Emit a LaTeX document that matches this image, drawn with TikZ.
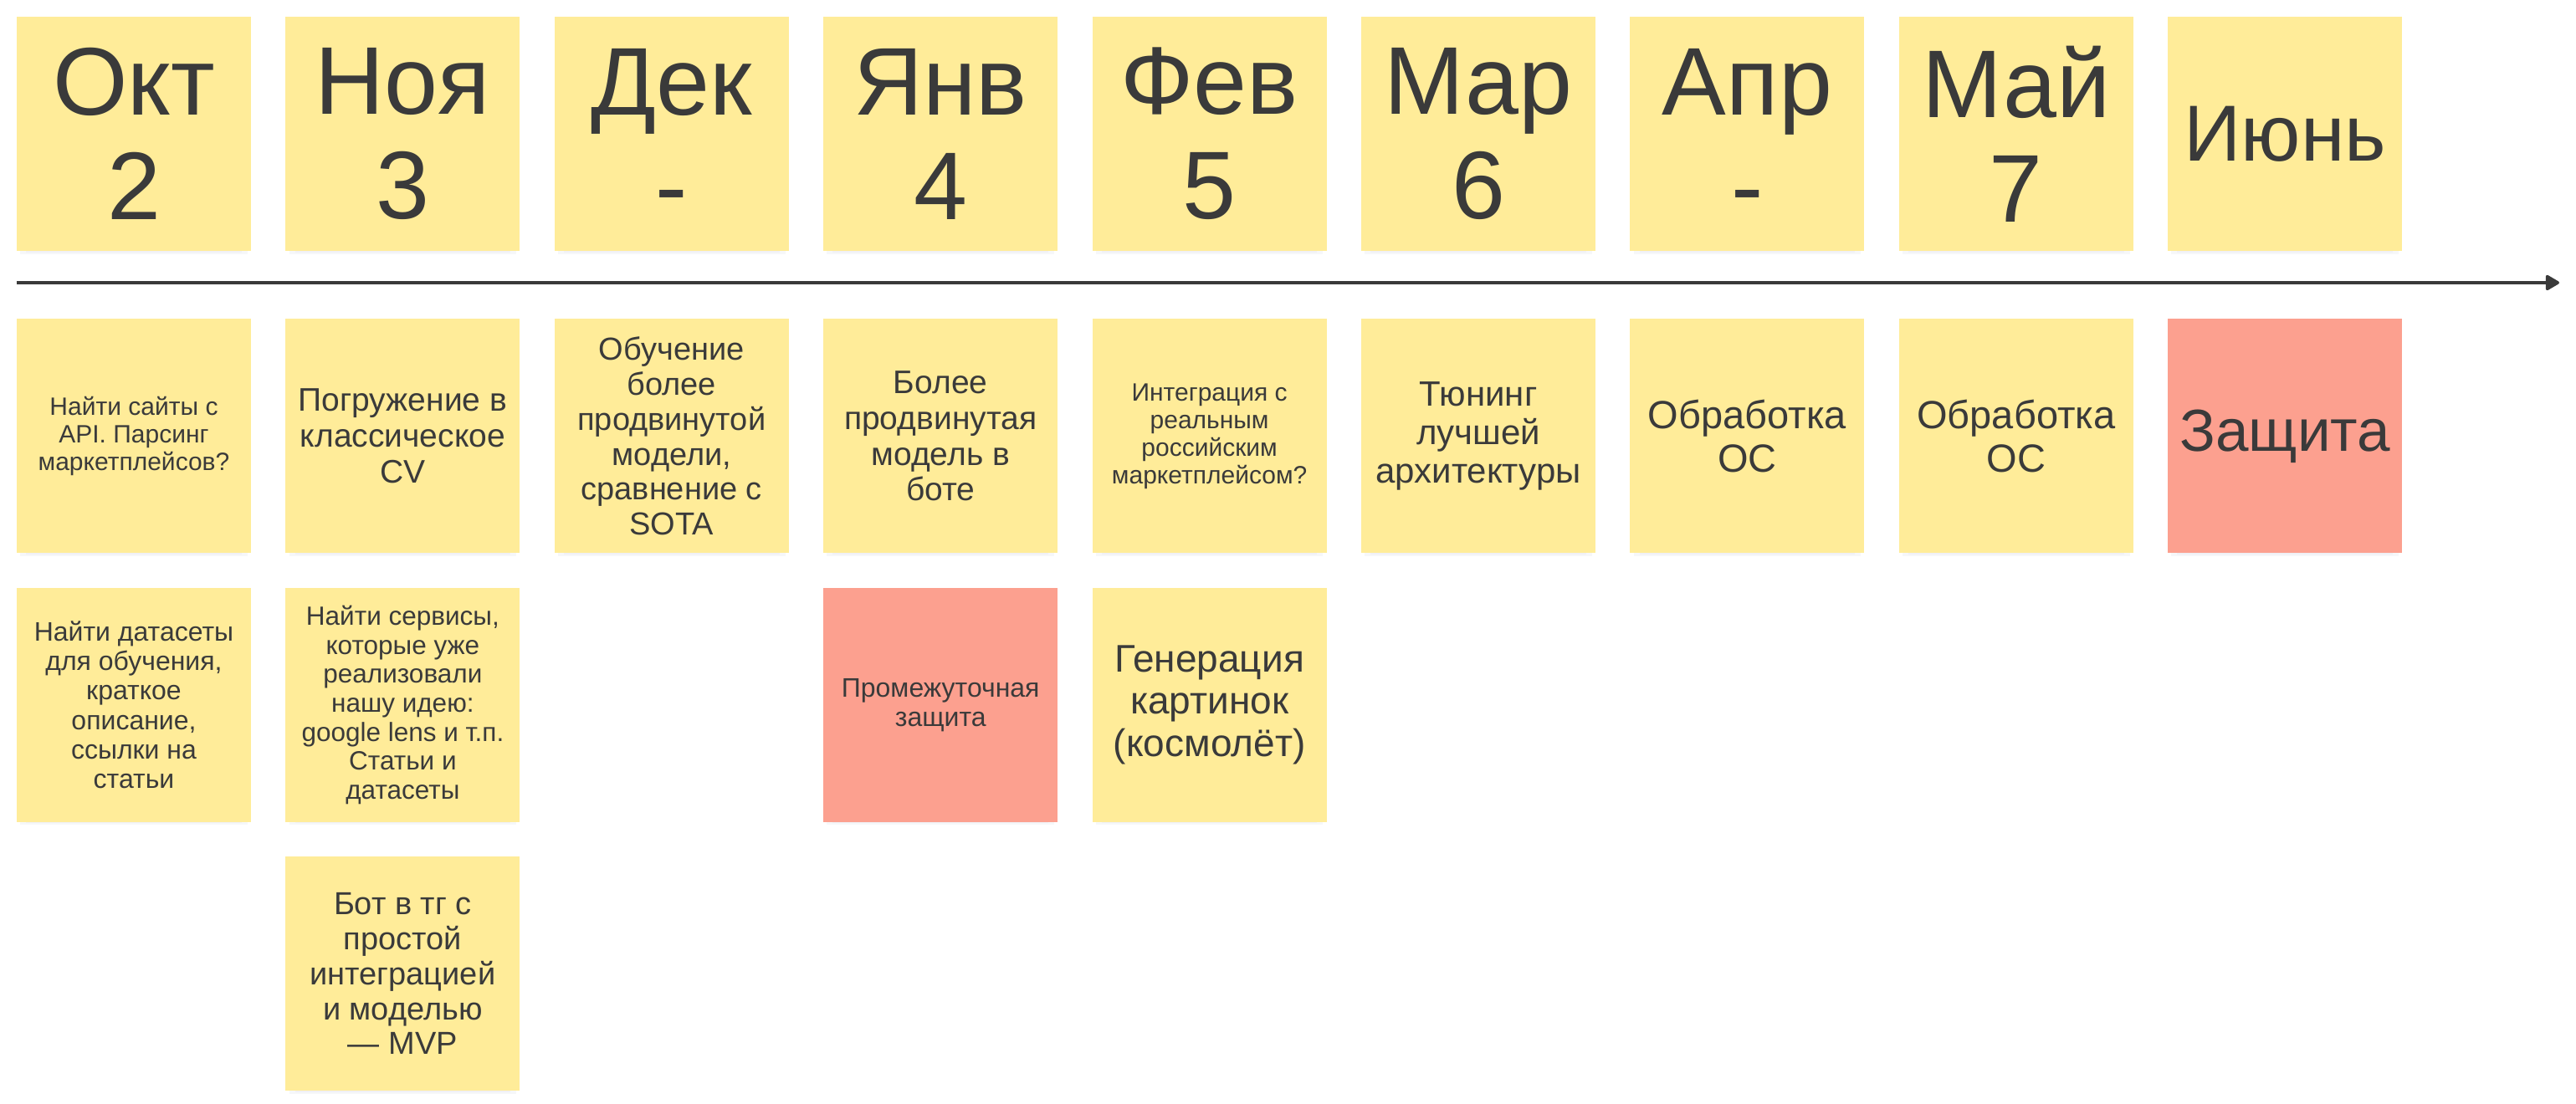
\documentclass[tikz,border=0pt]{standalone}
\usepackage{fontspec}
\setmainfont{Liberation Sans}
\usetikzlibrary{positioning,arrows.meta,shadows}

\definecolor{stickyyellow}{HTML}{FFEC99}
\definecolor{stickyred}{HTML}{FCA08F}
\definecolor{inkgray}{HTML}{3A3A3A}
\definecolor{shadowblue}{HTML}{8A93B5}

% font size in cm, line spacing 1.1x
\newcommand{\notesize}[1]{\fontsize{#1cm}{\dimexpr #1cm*110/100\relax}\selectfont}

\begin{document}
\begin{tikzpicture}[
    node distance=0.4cm, % gap between stickies
    sticky/.style={
        fill=stickyyellow,
        minimum size=2.8cm,
        inner sep=0pt,
        align=center,
        text=inkgray,
        general shadow={shadow yshift=-0.2cm, shadow scale=0.86, fill=shadowblue, opacity=0.05},
        general shadow={shadow yshift=-0.14cm, shadow scale=0.92, fill=shadowblue, opacity=0.06},
        general shadow={shadow yshift=-0.08cm, shadow scale=0.97, fill=shadowblue, opacity=0.07}
    },
    alert/.style={sticky, fill=stickyred},
    month/.style={sticky, font=\fontsize{1.15cm}{1.25cm}\selectfont}
]
\fill[white] (0,0) rectangle (30.79,-13.2);
\useasboundingbox (0,0) rectangle (30.79,-13.2);

% --- months ---
\node[month] (okt) at (1.6,-1.6) {Окт\\2};
\node[month, right=of okt] (noya) {Ноя\\3};
\node[month, right=of noya] (dek) {Дек\\-};
\node[month, right=of dek] (yanv) {Янв\\4};
\node[month, right=of yanv] (fev) {Фев\\5};
\node[month, right=of fev] (mar) {Мар\\6};
\node[month, right=of mar] (apr) {Апр\\-};
\node[month, right=of apr] (mai) {Май\\7};
\node[sticky, right=of mai, font=\notesize{0.95}] (iyun) {Июнь};

% --- time axis ---
\coordinate (axisstart) at (0.2,-3.38);
\coordinate (axisend) at (30.59,-3.38);
\draw[inkgray, line width=0.035cm, -{Triangle[length=0.18cm,width=0.2cm,round]}] (axisstart) -- (axisend);

% --- tasks, first row ---
\node[sticky, below=0.8cm of okt, font=\notesize{0.30}] (api) {Найти сайты с\\API. Парсинг\\маркетплейсов?};
\node[sticky, below=0.8cm of noya, font=\notesize{0.39}] (cv) {Погружение в\\классическое\\CV};
\node[sticky, below=0.8cm of dek, font=\notesize{0.38}] (sota) {Обучение\\более\\продвинутой\\модели,\\сравнение с\\SOTA};
\node[sticky, below=0.8cm of yanv, font=\notesize{0.39}] (botmodel) {Более\\продвинутая\\модель в\\боте};
\node[sticky, below=0.8cm of fev, font=\notesize{0.30}] (market) {Интеграция с\\реальным\\российским\\маркетплейсом?};
\node[sticky, below=0.8cm of mar, font=\notesize{0.42}] (tuning) {Тюнинг\\лучшей\\архитектуры};
\node[sticky, below=0.8cm of apr, font=\notesize{0.47}] (feedback1) {Обработка\\ОС};
\node[sticky, below=0.8cm of mai, font=\notesize{0.47}] (feedback2) {Обработка\\ОС};
\node[alert, below=0.8cm of iyun, font=\notesize{0.71}] (defense) {Защита};

% --- second and third rows ---
\node[sticky, below=of api, font=\notesize{0.32}] (datasets) {Найти датасеты\\для обучения,\\краткое\\описание,\\ссылки на\\статьи};
\node[sticky, below=of cv, font=\notesize{0.315}] (services) {Найти сервисы,\\которые уже\\реализовали\\нашу идею:\\google lens и т.п.\\Статьи и\\датасеты};
\node[alert, below=of botmodel, font=\notesize{0.32}] (midterm) {Промежуточная\\защита};
\node[sticky, below=of market, font=\notesize{0.46}] (imagegen) {Генерация\\картинок\\(космолёт)};
\node[sticky, below=of services, font=\notesize{0.38}] (mvp) {Бот в тг с\\простой\\интеграцией\\и моделью\\— MVP};

\end{tikzpicture}
\end{document}
